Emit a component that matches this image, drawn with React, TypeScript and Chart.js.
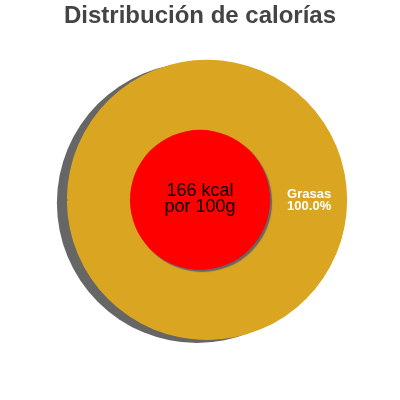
import * as React from 'react';
import { Chart, registerables } from 'chart.js';

Chart.register(...registerables);

const categories = ['Grasas'];
const percentages = [100.0];
const sliceColors = ['#DAA520'];
const kcalPer100g = 166;
const centerLines = [`${kcalPer100g} kcal`, 'por 100g'];

const FONT = '"Liberation Sans", Arial, sans-serif';

// sombra del pastel + círculo central + etiquetas
const decorPlugin = {
    id: 'decor',
    beforeDatasetDraw(chart: any) {
        const ctx = chart.ctx;
        const meta = chart.getDatasetMeta(0);
        const first: any = meta.data[0];
        const half = (first.startAngle + first.endAngle) / 2;
        const off = (first.options.offset || 0) / 4;
        const px = first.x + Math.cos(half) * off;
        const py = first.y + Math.sin(half) * off;
        const pr = first.outerRadius + off;
        ctx.save();
        // sombra
        ctx.fillStyle = '#666666';
        ctx.beginPath();
        ctx.arc(px - 10, py + 3, pr, 0, Math.PI * 2);
        ctx.fill();
        // fondo para tapar la junta del sector completo
        ctx.fillStyle = sliceColors[0];
        ctx.beginPath();
        ctx.arc(px, py, pr - 0.5, 0, Math.PI * 2);
        ctx.fill();
        ctx.restore();
    },
    afterDatasetsDraw(chart: any) {
        const ctx = chart.ctx;
        const dpr = chart.currentDevicePixelRatio || 1;
        const { left, right, top, bottom } = chart.chartArea;
        const cx = (left + right) / 2;
        const cy = (top + bottom) / 2;
        const meta = chart.getDatasetMeta(0);
        const arc: any = meta.data[0];
        const r = arc.outerRadius;

        // círculo rojo
        ctx.save();
        ctx.shadowColor = '#666666';
        ctx.shadowBlur = 1;
        ctx.shadowOffsetX = 2 * dpr;
        ctx.shadowOffsetY = 2 * dpr;
        ctx.beginPath();
        ctx.arc(cx, cy, r * 0.5 + 3.5, 0, Math.PI * 2);
        ctx.fillStyle = '#FF0000';
        ctx.fill();
        ctx.restore();

        ctx.save();
        ctx.fillStyle = '#000000';
        ctx.font = `18px ${FONT}`;
        ctx.textAlign = 'center';
        ctx.textBaseline = 'alphabetic';
        ctx.fillText(centerLines[0], cx, cy - 4);
        ctx.fillText(centerLines[1], cx, cy + 12);
        ctx.restore();

        // etiquetas de las porciones
        meta.data.forEach((el: any, i: number) => {
            const half = (el.startAngle + el.endAngle) / 2;
            const lx = el.x + Math.cos(half) * el.outerRadius * 0.82;
            const ly = el.y + Math.sin(half) * el.outerRadius * 0.82;
            ctx.save();
            ctx.fillStyle = '#FFFFFF';
            ctx.font = `bold 13px ${FONT}`;
            ctx.textAlign = 'center';
            ctx.textBaseline = 'alphabetic';
            ctx.fillText(categories[i], lx, ly - 2);
            ctx.fillText(percentages[i].toFixed(1) + '%', lx, ly + 10);
            ctx.restore();
        });
    }
};

export default function App() {
    const canvasRef = React.useRef<HTMLCanvasElement>(null);

    React.useEffect(() => {
        if (!canvasRef.current) return;
        const chart = new Chart(canvasRef.current, {
            type: 'pie',
            data: {
                labels: categories,
                datasets: [{
                    data: percentages,
                    backgroundColor: sliceColors,
                    borderWidth: 0,
                    offset: 28,
                    hoverOffset: 0
                }]
            },
            options: {
                animation: false,
                responsive: false,
                rotation: -90,
                events: [],
                layout: { padding: { top: 0, bottom: 53, left: 0, right: 0 } },
                plugins: {
                    legend: { display: false },
                    tooltip: { enabled: false },
                    title: {
                        display: true,
                        text: 'Distribución de calorías',
                        color: '#444444',
                        font: { size: 24, weight: 'bold', family: FONT },
                        padding: { top: 2, bottom: 22 }
                    }
                }
            },
            plugins: [decorPlugin]
        });
        return () => {
            chart.destroy();
        };
    }, []);

    return (
        <div style={{ position: 'absolute', left: 0, top: 0, width: 400, height: 400 }}>
            <canvas ref={canvasRef} width={400} height={400}></canvas>
        </div>
    );
}
